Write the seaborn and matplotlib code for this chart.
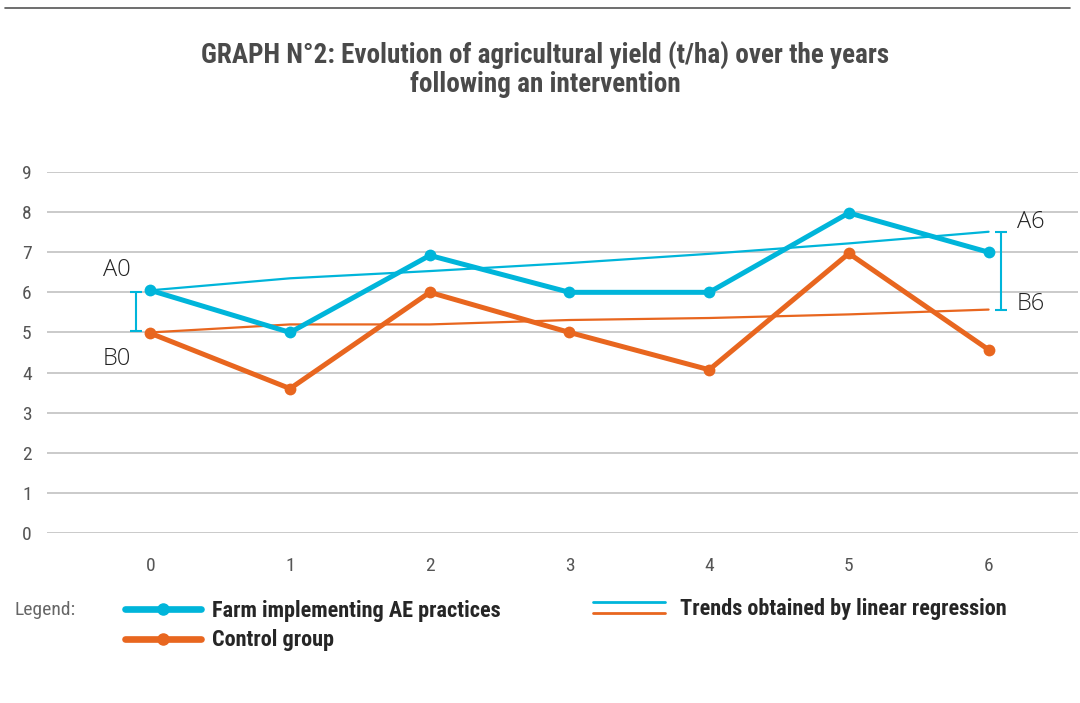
import numpy as np
import pandas as pd
import matplotlib
matplotlib.use("Agg")
import matplotlib.pyplot as plt
import seaborn as sns
from matplotlib.lines import Line2D
from matplotlib.legend_handler import HandlerBase

# data
years = [0, 1, 2, 3, 4, 5, 6]
ae_farm = [6.05, 5.0, 6.92, 6.0, 6.0, 7.98, 7.0]
control = [4.98, 3.6, 6.0, 5.0, 4.07, 6.97, 4.57]
ae_trend = [6.05, 6.35, 6.53, 6.73, 6.96, 7.22, 7.51]
control_trend = [5.0, 5.2, 5.2, 5.31, 5.36, 5.45, 5.57]
y_ticks = [0, 1, 2, 3, 4, 5, 6, 7, 8, 9]

CYAN = "#00b5da"
ORANGE = "#e8661f"
NARROW = ["Roboto Condensed", "IBM Plex Sans Condensed", "DejaVu Sans"]

df = pd.DataFrame({"year": years, "ae": ae_farm, "ctrl": control,
                   "ae_trend": ae_trend, "ctrl_trend": control_trend})

sns.set_theme(style="white")
plt.rcParams["font.family"] = NARROW

fig = plt.figure(figsize=(10.8, 7.03), dpi=100)
ax = fig.add_axes([47 / 1080, 1 - 533 / 703, (1078 - 47) / 1080, (533 - 172) / 703])

# trend lines (thin)
sns.lineplot(data=df, x="year", y="ae_trend", color=CYAN, lw=1.6, ax=ax, zorder=3)
sns.lineplot(data=df, x="year", y="ctrl_trend", color=ORANGE, lw=1.6, ax=ax, zorder=3)
# main series
sns.lineplot(data=df, x="year", y="ctrl", color=ORANGE, lw=3.6, marker="o",
             markersize=8.5, markeredgewidth=0, ax=ax, zorder=4)
sns.lineplot(data=df, x="year", y="ae", color=CYAN, lw=3.6, marker="o",
             markersize=8.5, markeredgewidth=0, ax=ax, zorder=5)

ax.set_xlim(-0.74, 6.64)
ax.set_ylim(0, 9)
ax.set_yticks(y_ticks)
ax.set_xticks(years)
ax.set_xlabel("")
ax.set_ylabel("")
ax.grid(axis="y", color="#c6c6c6", lw=1.3)
ax.grid(axis="x", visible=False)
for s in ax.spines.values():
    s.set_visible(False)
ax.tick_params(axis="both", length=0, labelsize=14, labelcolor="#555555")
ax.tick_params(axis="x", pad=17)
ax.tick_params(axis="y", pad=11)

# gap brackets at year 0 and year 6
ax.errorbar([-0.1], [(ae_trend[0] + control_trend[0]) / 2],
            yerr=[[(ae_trend[0] - control_trend[0]) / 2 - 0.04]], color=CYAN,
            capsize=4, elinewidth=1.5, capthick=1.5, zorder=2)
ax.errorbar([6.09], [(ae_trend[6] + control_trend[6]) / 2],
            yerr=[[(ae_trend[6] - control_trend[6]) / 2]], color=CYAN,
            capsize=4.5, elinewidth=1.5, capthick=1.5, zorder=2)

lbl = dict(family=["Open Sans", "DejaVu Sans"], fontweight="light", fontsize=17,
           color="#222222")
ax.text(-0.24, 6.55, "A0", ha="center", va="center", **lbl)
ax.text(-0.24, 4.35, "B0", ha="center", va="center", **lbl)
ax.text(6.3, 7.75, "A6", ha="center", va="center", **lbl)
ax.text(6.3, 5.72, "B6", ha="center", va="center", **lbl)

# title and top rule
fig.text(545 / 1080, 1 - 70 / 703,
         "GRAPH N°2: Evolution of agricultural yield (t/ha) over the years\nfollowing an intervention",
         ha="center", va="center", fontsize=19.5, fontweight="black", color="#4a4a4a",
         linespacing=1.05)
fig.add_artist(Line2D([5 / 1080, 1070 / 1080], [1 - 8 / 703] * 2, color="#555555", lw=1.2))

# legend
fig.text(15 / 1080, 1 - 610 / 703, "Legend:", ha="left", va="center",
         fontsize=14, color="#666666")

h_ae = Line2D([], [], color=CYAN, lw=4.8, marker="o", markersize=8)
h_ct = Line2D([], [], color=ORANGE, lw=4.8, marker="o", markersize=8)
fig.legend([h_ae, h_ct], ["Farm implementing AE practices", "Control group"],
           loc="center left", bbox_to_anchor=(125 / 1080, 1 - 625.5 / 703),
           frameon=False, borderpad=0, borderaxespad=0, handlelength=3.4,
           handletextpad=0.5, labelspacing=0.35,
           prop=dict(family=NARROW, weight="bold", size=16))


class TwoLines(HandlerBase):
    def create_artists(self, legend, orig, xd, yd, w, h, fontsize, trans):
        top = Line2D([xd, xd + w], [yd + h * 0.85] * 2, color=CYAN, lw=2, transform=trans)
        bot = Line2D([xd, xd + w], [yd + h * 0.15] * 2, color=ORANGE, lw=2, transform=trans)
        return [top, bot]


fig.legend([object()], ["Trends obtained by linear regression"],
           handler_map={object: TwoLines()},
           loc="center left", bbox_to_anchor=(593 / 1080, 1 - 609 / 703),
           frameon=False, borderpad=0, borderaxespad=0, handlelength=3.25,
           handletextpad=0.65, prop=dict(family=NARROW, weight="bold", size=16))

fig.savefig("out.png", dpi=100)
